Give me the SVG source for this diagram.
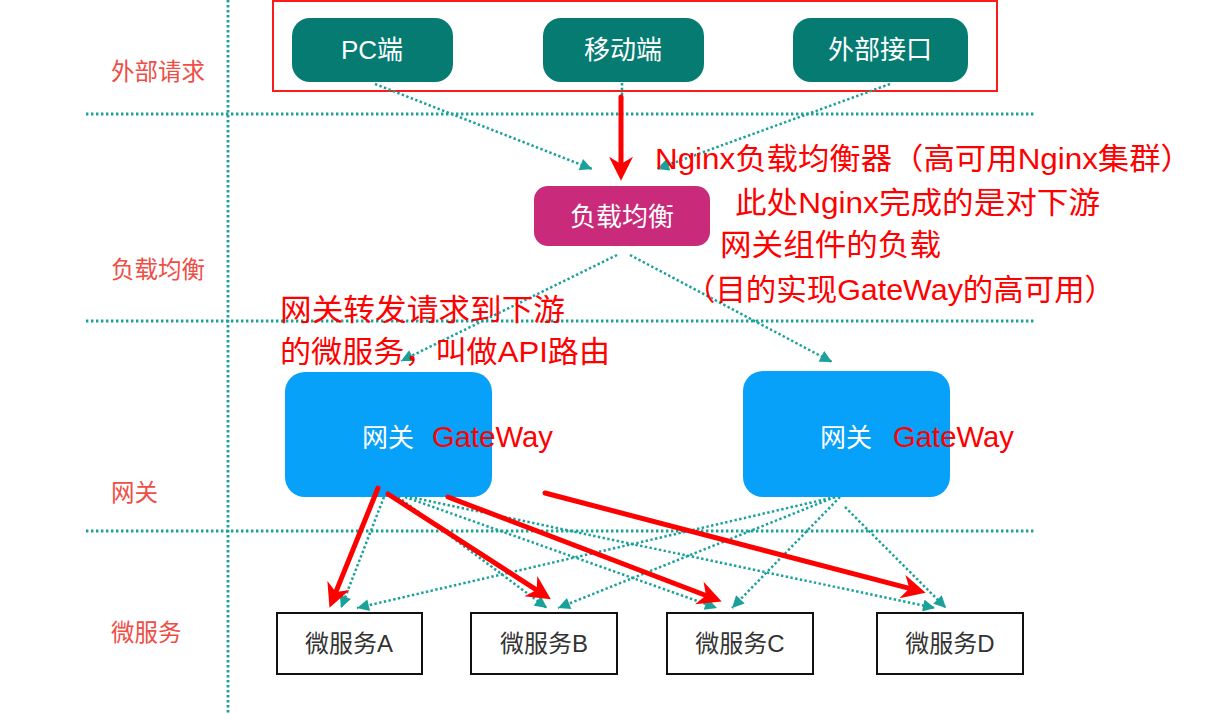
<svg xmlns="http://www.w3.org/2000/svg" width="1217" height="714" viewBox="0 0 1217 714">
<style>
.grid{stroke:#1aa29a;stroke-width:2.8;stroke-dasharray:2.4 2.6;fill:none}
.dot{stroke:#1aa29a;stroke-width:2.5;stroke-dasharray:2.4 2.4;fill:none}
.red{stroke:#ff0000;stroke-width:5;fill:none;stroke-linecap:round}
.lab{font-family:"Liberation Sans","Noto Sans CJK SC",sans-serif;font-size:23.5px;fill:#ef4d46}
.wt{font-family:"Liberation Sans","Noto Sans CJK SC",sans-serif;fill:#ffffff;text-anchor:middle;font-size:26px}
.ann{font-family:"Liberation Sans","Noto Sans CJK SC",sans-serif;font-size:30px;fill:#ff0000}
.ms{fill:#ffffff;stroke:#111111;stroke-width:2}
.mt{font-family:"Liberation Sans","Noto Sans CJK SC",sans-serif;font-size:24px;fill:#333333;text-anchor:middle}
</style>
<defs>
<marker id="ta" viewBox="0 0 10 10" refX="10" refY="5" markerWidth="13" markerHeight="12" markerUnits="userSpaceOnUse" orient="auto"><path d="M0,0 L10,5 L0,10 z" fill="#1aa29a"/></marker>
<marker id="ra" viewBox="0 0 10 10" refX="3" refY="5" markerWidth="26" markerHeight="24" markerUnits="userSpaceOnUse" orient="auto"><path d="M0,0 L10,5 L0,10 L3,5 z" fill="#ff0000"/></marker>
</defs>
<rect width="1217" height="714" fill="#ffffff"/>
<g id="lanes">
<line class="grid" x1="228" y1="0" x2="228" y2="714"/>
<line class="grid" x1="86" y1="114" x2="1036" y2="114"/>
<line class="grid" x1="86" y1="321" x2="1036" y2="321"/>
<line class="grid" x1="86" y1="531" x2="1036" y2="531"/>
<text class="lab" x="111" y="80">外部请求</text>
<text class="lab" x="111" y="278">负载均衡</text>
<text class="lab" x="111" y="501">网关</text>
<text class="lab" x="111" y="641">微服务</text>
</g>
<g id="client-frame"><rect x="273" y="1" width="724" height="90" fill="none" stroke="#ff1a1a" stroke-width="2"/></g>
<g id="pc"><rect x="292" y="18" width="161" height="64" rx="18" fill="#067b72"/><text class="wt" x="372" y="59">PC端</text></g>
<g id="mobile"><rect x="543" y="18" width="161" height="64" rx="18" fill="#067b72"/><text class="wt" x="623" y="59">移动端</text></g>
<g id="external"><rect x="793" y="18" width="175" height="64" rx="18" fill="#067b72"/><text class="wt" x="880" y="59">外部接口</text></g>
<g id="lb"><rect x="534" y="186" width="176" height="60" rx="14" fill="#c92a7a"/><text class="wt" x="622" y="226" fill="#fbe8f1">负载均衡</text></g>
<g id="gw1"><rect x="285" y="372" width="207" height="125" rx="20" fill="#07a1f9"/><text class="wt" x="388" y="447">网关</text></g>
<g id="gw2"><rect x="743" y="371" width="207" height="126" rx="20" fill="#07a1f9"/><text class="wt" x="846" y="447">网关</text></g>
<g id="msA"><rect class="ms" x="277" y="613" width="145" height="61"/><text class="mt" x="349" y="652">微服务A</text></g>
<g id="msB"><rect class="ms" x="471" y="613" width="146" height="61"/><text class="mt" x="544" y="652">微服务B</text></g>
<g id="msC"><rect class="ms" x="667" y="613" width="146" height="61"/><text class="mt" x="740" y="652">微服务C</text></g>
<g id="msD"><rect class="ms" x="877" y="613" width="146" height="61"/><text class="mt" x="950" y="652">微服务D</text></g>
<g id="connectors">
<line class="dot" x1="375" y1="84" x2="592" y2="169" marker-end="url(#ta)"/>
<line class="dot" x1="890" y1="84" x2="657" y2="169" marker-end="url(#ta)"/>
<line class="dot" x1="622" y1="83" x2="622" y2="100"/>
<line class="dot" x1="617" y1="255" x2="401" y2="361" marker-end="url(#ta)"/>
<line class="dot" x1="630" y1="255" x2="832" y2="362" marker-end="url(#ta)"/>
<line class="dot" x1="384" y1="497" x2="341" y2="608" marker-end="url(#ta)"/>
<line class="dot" x1="398" y1="497" x2="547" y2="608" marker-end="url(#ta)"/>
<line class="dot" x1="405" y1="497" x2="717" y2="608" marker-end="url(#ta)"/>
<line class="dot" x1="410" y1="497" x2="935" y2="608" marker-end="url(#ta)"/>
<line class="dot" x1="835" y1="497" x2="357" y2="608" marker-end="url(#ta)"/>
<line class="dot" x1="835" y1="497" x2="558" y2="608" marker-end="url(#ta)"/>
<line class="dot" x1="840" y1="497" x2="732" y2="608" marker-end="url(#ta)"/>
<line class="dot" x1="845" y1="507" x2="946" y2="608" marker-end="url(#ta)"/>
<line class="red" x1="621" y1="97" x2="621" y2="164" marker-end="url(#ra)"/>
<line class="red" x1="378" y1="488" x2="335.8" y2="592.1" marker-end="url(#ra)"/>
<line class="red" x1="388" y1="494" x2="536.8" y2="590.1" marker-end="url(#ra)"/>
<line class="red" x1="448" y1="497" x2="706" y2="595.5" marker-end="url(#ra)"/>
<line class="red" x1="545" y1="493" x2="909.4" y2="588.4" marker-end="url(#ra)"/>
</g>
<g id="annotations">
<text class="ann" x="655" y="169" textLength="537" lengthAdjust="spacingAndGlyphs">Nginx负载均衡器（高可用Nginx集群）</text>
<text class="ann" x="735" y="213" textLength="365" lengthAdjust="spacingAndGlyphs">此处Nginx完成的是对下游</text>
<text class="ann" x="720" y="255" textLength="221" lengthAdjust="spacingAndGlyphs">网关组件的负载</text>
<text class="ann" x="685" y="300" textLength="430" lengthAdjust="spacingAndGlyphs">（目的实现GateWay的高可用）</text>
<text class="ann" x="280" y="320" textLength="285" lengthAdjust="spacingAndGlyphs">网关转发请求到下游</text>
<text class="ann" x="280" y="362" textLength="330" lengthAdjust="spacingAndGlyphs">的微服务，叫做API路由</text>
<text class="ann" x="432" y="447" font-size="29" textLength="121" lengthAdjust="spacingAndGlyphs">GateWay</text>
<text class="ann" x="893" y="447" font-size="29" textLength="121" lengthAdjust="spacingAndGlyphs">GateWay</text>
</g>
</svg>
